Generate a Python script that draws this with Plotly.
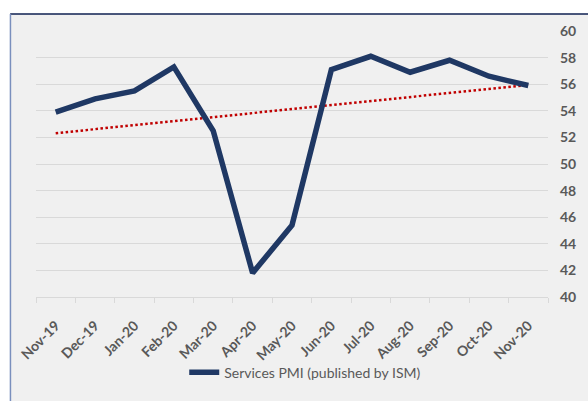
import numpy as np
import plotly.graph_objects as go

# ISM Services PMI, monthly
months = ["Nov-19", "Dec-19", "Jan-20", "Feb-20", "Mar-20", "Apr-20", "May-20",
          "Jun-20", "Jul-20", "Aug-20", "Sep-20", "Oct-20", "Nov-20"]
pmi = [53.9, 54.9, 55.5, 57.3, 52.5, 41.8, 45.4, 57.1, 58.1, 56.9, 57.8, 56.6, 55.9]
y_ticks = [40, 42, 44, 46, 48, 50, 52, 54, 56, 58, 60]

# linear trend fitted to the monthly values
idx = np.arange(len(pmi))
slope, intercept = np.polyfit(idx, pmi, 1)
trend = slope * idx + intercept

W, H = 588, 401
ML, MR, MT, MB = 36, 27, 31, 96
PW, PH = W - ML - MR, H - MT - MB


def px_x(x):
    return (x - ML) / PW


def px_y(y):
    return (H - MB - y) / PH


GRAY = "#595959"
NAVY = "#1f3864"
FONT = "Lato"

fig = go.Figure()
fig.add_trace(go.Scatter(
    x=months, y=trend, mode="lines", showlegend=False, hoverinfo="skip",
    line=dict(color="#c00000", width=2.5, dash="2.5px,2.5px"),
))
fig.add_trace(go.Scatter(
    x=months, y=pmi, mode="lines", name="Services PMI (published by ISM)",
    line=dict(color=NAVY, width=5.5),
))

shapes = [
    # chart area fill
    dict(type="rect", xref="paper", yref="paper", layer="below",
         x0=px_x(9.5), x1=px_x(640), y0=px_y(460), y1=px_y(13.5),
         fillcolor="#f0f0f0", line=dict(width=0)),
    # frame edges
    dict(type="line", xref="paper", yref="paper", layer="below",
         x0=px_x(9.5), x1=px_x(640), y0=px_y(13.5), y1=px_y(13.5),
         line=dict(color="#0f2152", width=1.5)),
    dict(type="line", xref="paper", yref="paper", layer="below",
         x0=px_x(9.8), x1=px_x(9.8), y0=px_y(13.5), y1=px_y(460),
         line=dict(color="#7a8fbd", width=1.5)),
]

fig.update_layout(
    width=W, height=H,
    margin=dict(l=ML, r=MR, t=MT, b=MB),
    paper_bgcolor="white",
    plot_bgcolor="rgba(0,0,0,0)",
    shapes=shapes,
    font=dict(family=FONT, color=GRAY),
    showlegend=True,
    legend=dict(orientation="h", x=px_x(188), xanchor="left",
                y=px_y(383), yanchor="middle",
                bgcolor="rgba(0,0,0,0)",
                font=dict(family=FONT, size=14, color=GRAY)),
    xaxis=dict(
        type="category", range=[-0.5, len(months) - 0.5],
        tickson="boundaries", ticks="outside", ticklen=5, tickcolor="#d9d9d9",
        showline=True, linecolor="#d9d9d9", linewidth=1,
        showgrid=False, tickangle=-45, ticklabelstandoff=14,
        tickfont=dict(family=FONT, size=14, color=GRAY, weight="bold"),
    ),
    yaxis=dict(
        side="right", range=[40, 60], tickvals=y_ticks,
        showgrid=True, gridcolor="#d9d9d9", gridwidth=1,
        zeroline=False, showline=False, ticks="",
        ticklabelstandoff=11,
        tickfont=dict(family=FONT, size=14, color=GRAY, weight="bold"),
    ),
)

fig.write_html("out.html")
